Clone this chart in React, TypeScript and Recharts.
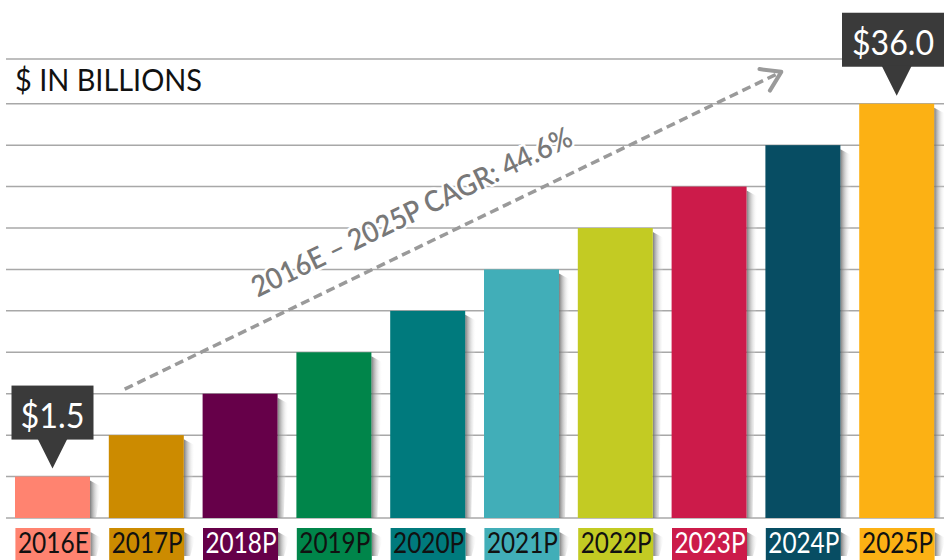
import React from "react";
import { BarChart, Bar, XAxis, YAxis, CartesianGrid, ReferenceLine, LabelList } from "recharts";

const years = ["2016E", "2017P", "2018P", "2019P", "2020P", "2021P", "2022P", "2023P", "2024P", "2025P"];
// bar heights as drawn (stepped), in grid units
const barLevels = [1, 2, 3, 4, 5, 6, 7, 8, 9, 10];
const barColors = ["#FF8370", "#CC8B00", "#660049", "#00854A", "#007A7D", "#41AEB8", "#C3CB23", "#CC1B4A", "#074D63", "#FCB114"];
const yearTextColors = ["#111", "#111", "#fff", "#111", "#111", "#111", "#111", "#fff", "#fff", "#111"];
const callouts = ["$1.5", null, null, null, null, null, null, null, null, "$36.0"];
const gridTicks = [0, 1, 2, 3, 4, 5, 6, 7, 8, 9, 10, 11.08];
const cagrText = "2016E – 2025P CAGR: 44.6%";

const data = years.map((year, i) => ({
  year,
  level: barLevels[i],
  color: barColors[i],
  textColor: yearTextColors[i],
  callout: callouts[i],
}));

const W = 944;
const H = 560;
const FONT = "Lato, 'Open Sans', sans-serif";

function Shadow({ id, x, y, h }: { id: string; x: number; y: number; h: number }) {
  return (
    <g>
      <defs>
        <linearGradient id={id} x1="0" y1="0" x2="1" y2="0">
          <stop offset="0%" stopColor="#6e6e6e" stopOpacity={0.9} />
          <stop offset="100%" stopColor="#ffffff" stopOpacity={0} />
        </linearGradient>
      </defs>
      <polygon
        points={`${x},${y + 4} ${x + 11},${y + 10} ${x + 6},${y + h} ${x},${y + h}`}
        fill={`url(#${id})`}
      />
    </g>
  );
}

function ShadowBar(props: any) {
  const { x, y, width, height, index, payload } = props;
  return (
    <g>
      <Shadow id={`bs${index}`} x={x + width} y={y} h={height} />
      <rect x={x} y={y} width={width} height={height} fill={payload.color} />
    </g>
  );
}

function YearTick(props: any) {
  const { x, y, payload, index } = props;
  const d = data[index] ?? data.find(r => r.year === payload.value);
  const w = 75;
  const h = 34;
  return (
    <g>
      <Shadow id={`ls${index}`} x={x + w / 2} y={y} h={h - 6} />
      <rect x={x - w / 2} y={y} width={w} height={h} fill={d.color} />
      <text
        x={x - 35}
        y={y + 25}
        textLength={71}
        lengthAdjust="spacingAndGlyphs"
        fontFamily={FONT}
        fontSize={28}
        fill={d.textColor}
      >
        {payload.value}
      </text>
    </g>
  );
}

function Callout(props: any) {
  const { x, y, width, value } = props;
  if (!value) return null;
  const cx = x + width / 2;
  const tip = y - 8;
  const pH = 29;
  const boxH = 54;
  const boxW = String(value).length * 20 + 2;
  const boxBottom = tip - pH;
  const left = Math.min(cx - boxW / 2, W - boxW);
  const textW = String(value).length * 18 - 8;
  return (
    <g>
      <rect x={left} y={boxBottom - boxH} width={boxW} height={boxH} fill="#3a3a3a" />
      <polygon points={`${cx - 15},${boxBottom - 1} ${cx + 15},${boxBottom - 1} ${cx},${tip}`} fill="#3a3a3a" />
      <text
        x={left + (boxW - textW) / 2}
        y={boxBottom - 12}
        textLength={textW}
        lengthAdjust="spacingAndGlyphs"
        fontFamily={FONT}
        fontSize={35}
        fill="#fff"
      >
        {value}
      </text>
    </g>
  );
}

function CagrArrow(props: any) {
  const shift = -22;
  const x1 = props.x1 + shift;
  const x2 = props.x2 + shift;
  const { y1, y2 } = props;
  const dx = x2 - x1;
  const dy = y2 - y1;
  const len = Math.sqrt(dx * dx + dy * dy);
  const ux = dx / len;
  const uy = dy / len;
  const angle = (Math.atan2(dy, dx) * 180) / Math.PI;
  const headLen = 22;
  const a = (33 * Math.PI) / 180;
  const rot = (vx: number, vy: number, t: number) => [vx * Math.cos(t) - vy * Math.sin(t), vx * Math.sin(t) + vy * Math.cos(t)];
  const [h1x, h1y] = rot(-ux, -uy, a);
  const [h2x, h2y] = rot(-ux, -uy, -a);
  const t = 0.46;
  const off = 36;
  const tx = x1 + dx * t + uy * off;
  const ty = y1 + dy * t - ux * off;
  return (
    <g>
      <line x1={x1} y1={y1} x2={x2 - ux * 3} y2={y2 - uy * 3} stroke="#9a9a9a" strokeWidth={3.5} strokeDasharray="9 5" />
      <polyline
        points={`${x2 + h1x * headLen},${y2 + h1y * headLen} ${x2},${y2} ${x2 + h2x * headLen},${y2 + h2y * headLen}`}
        fill="none"
        stroke="#9a9a9a"
        strokeWidth={4}
        strokeLinecap="round"
        strokeLinejoin="round"
      />
      <text
        x={tx - 176}
        y={ty}
        transform={`rotate(${angle}, ${tx}, ${ty})`}
        textLength={352}
        lengthAdjust="spacingAndGlyphs"
        dominantBaseline="central"
        fontFamily={FONT}
        fontSize={29}
        fontWeight={600}
        fill="#787878"
        stroke="#fff"
        strokeWidth={5}
        paintOrder="stroke"
      >
        {cagrText}
      </text>
    </g>
  );
}

export default function App() {
  return (
    <div style={{ position: "absolute", left: 0, top: 0, width: W, height: H, background: "#fff" }}>
      <BarChart width={W} height={H} data={data} margin={{ top: 59, right: 0, bottom: 0, left: 6 }}>
        <CartesianGrid vertical={false} stroke="#a8a8a8" strokeWidth={1.5} />
        <YAxis hide domain={[0, 11.08]} ticks={gridTicks} />
        <XAxis
          dataKey="year"
          height={42}
          axisLine={false}
          tickLine={false}
          tickSize={0}
          tickMargin={10}
          interval={0}
          tick={<YearTick />}
        />
        <ReferenceLine
          segment={[{ x: "2017P", y: 3.11 }, { x: "2024P", y: 10.77 }]}
          shape={<CagrArrow />}
        />
        <Bar dataKey="level" barSize={75} shape={<ShadowBar />} isAnimationActive={false}>
          <LabelList dataKey="callout" content={<Callout />} />
        </Bar>
      </BarChart>
      <svg width={240} height={40} style={{ position: "absolute", left: 0, top: 60 }}>
        <text x={15} y={31} textLength={187} lengthAdjust="spacingAndGlyphs" fontFamily={FONT} fontSize={31} fill="#111">
          $ IN BILLIONS
        </text>
      </svg>
    </div>
  );
}
